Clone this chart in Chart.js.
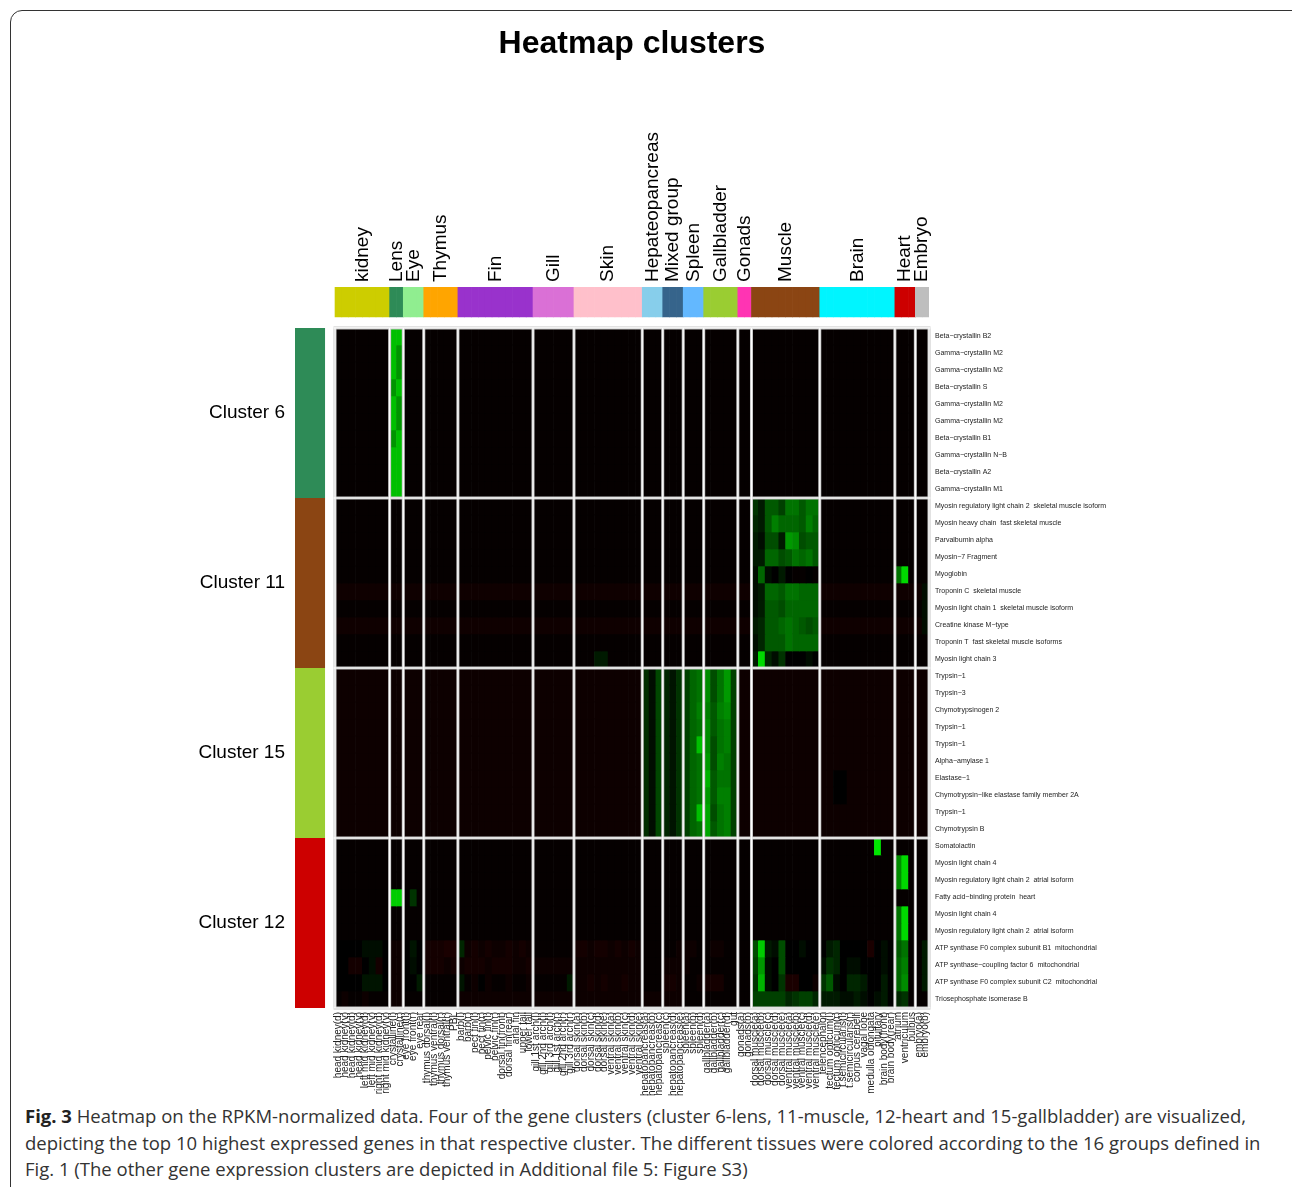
<!DOCTYPE html>
<html>
<head>
<meta charset="utf-8">
<title>Heatmap clusters</title>
<script src="https://cdn.jsdelivr.net/npm/chart.js@4.4.1/dist/chart.umd.min.js"></script>
<style>
  body { margin: 0; background: #fff; }
  #frame { position: absolute; left: 10px; top: 10px; width: 1300px; height: 1250px; border: 1px solid #333; border-radius: 12px; box-sizing: border-box; }
  #chart { position: absolute; left: 0; top: 0; }
  #caption { position: absolute; left: 25px; top: 1103px; font: 18.5px 'Open Sans', sans-serif; color: #333; line-height: 26.5px; white-space: nowrap; }
  #caption b { color: #222; }
</style>
</head>
<body>
<div id="frame"></div>
<canvas id="chart" width="1264" height="1100"></canvas>
<div id="caption"><b>Fig. 3</b> Heatmap on the RPKM-normalized data. Four of the gene clusters (cluster 6-lens, 11-muscle, 12-heart and 15-gallbladder) are visualized,<br>depicting the top 10 highest expressed genes in that respective cluster. The different tissues were colored according to the 16 groups defined in<br>Fig. 1 (The other gene expression clusters are depicted in Additional file 5: Figure S3)</div>
<script>
// tissue groups (column side colours)
const groups = ['kidney', 'Lens', 'Eye', 'Thymus', 'Fin', 'Gill', 'Skin', 'Hepateopancreas', 'Mixed group',
  'Spleen', 'Gallbladder', 'Gonads', 'Muscle', 'Brain', 'Heart', 'Embryo'];
const groupSizes = [8, 2, 3, 5, 11, 6, 10, 3, 3, 3, 5, 2, 10, 11, 3, 2];
const groupColors = ['#CDCD00', '#2E8B57', '#90EE90', '#FFA500', '#9932CC', '#DA70D6', '#FFC0CB', '#87CEEB', '#36648B',
  '#63B8FF', '#9ACD32', '#FF34B3', '#8B4513', '#00F5FF', '#CD0000', '#BEBEBE'];

// tissues (columns)
const tissues = [
  'head kidney(d)', 'head kidney(v)', 'head kidney(d)', 'head kidney(v)', 'left mid kidney(d)', 'left mid kidney(v)', 'right mid kidney(d)', 'right mid kidney(v)',
  'crystalline(l)', 'crystalline(r)',
  'eye front(l)', 'eye front(r)', 'eye rear',
  'thymus dorsal(l)', 'thymus ventral(l)', 'thymus dorsal(r)', 'thymus ventral(r)', 'PBL',
  'barb(l)', 'barb(r)', 'pect fin(l)', 'pect fin(r)', 'pelvic fin(l)', 'pelvic fin(r)', 'dorsal fin(front)', 'dorsal fin(rear)', 'anal fin', 'upper tail', 'lower tail',
  'gill 1st arch(l)', 'gill 2nd arch(l)', 'gill 3rd arch(l)', 'gill 1st arch(r)', 'gill 2nd arch(r)', 'gill 3rd arch(r)',
  'dorsal skin(a)', 'dorsal skin(b)', 'dorsal skin(c)', 'dorsal skin(d)', 'dorsal skin(e)', 'ventral skin(a)', 'ventral skin(b)', 'ventral skin(c)', 'ventral skin(d)', 'ventral skin(e)',
  'hepatopancreas(a)', 'hepatopancreas(b)', 'hepatopancreas(c)',
  'spleen(c)', 'hepatopancreas(d)', 'hepatopancreas(e)',
  'spleen(a)', 'spleen(b)', 'spleen(d)',
  'gallbladder(a)', 'gallbladder(b)', 'gallbladder(c)', 'gallbladder(d)', 'gut',
  'gonads(a)', 'gonads(b)',
  'dorsal muscle(a)', 'dorsal muscle(b)', 'dorsal muscle(c)', 'dorsal muscle(d)', 'dorsal muscle(e)', 'ventral muscle(a)', 'ventral muscle(b)', 'ventral muscle(c)', 'ventral muscle(d)', 'ventral muscle(e)',
  'telencephalon', 'tectum opticum(l)', 'tectum opticum(r)', 't.semicircularis(l)', 't.semicircularis(r)', 'corpus cerebelli', 'vagal lobe', 'medulla oblongata', 'pituitary', 'brain body(front)', 'brain body(rear)',
  'atrium', 'ventriculum', 'bulbus',
  'embryo(a)', 'embryo(b)'
];

// gene clusters (row side colours)
const clusters = ['Cluster 6', 'Cluster 11', 'Cluster 15', 'Cluster 12'];
const clusterColors = ['#2E8B57', '#8B4513', '#9ACD32', '#CD0000'];

const genes = [
  'Beta−crystallin B2', 'Gamma−crystallin M2', 'Gamma−crystallin M2', 'Beta−crystallin S', 'Gamma−crystallin M2',
  'Gamma−crystallin M2', 'Beta−crystallin B1', 'Gamma−crystallin N−B', 'Beta−crystallin A2', 'Gamma−crystallin M1',
  'Myosin regulatory light chain 2  skeletal muscle isoform', 'Myosin heavy chain  fast skeletal muscle', 'Parvalbumin alpha', 'Myosin−7 Fragment', 'Myoglobin',
  'Troponin C  skeletal muscle', 'Myosin light chain 1  skeletal muscle isoform', 'Creatine kinase M−type', 'Troponin T  fast skeletal muscle isoforms', 'Myosin light chain 3',
  'Trypsin−1', 'Trypsin−3', 'Chymotrypsinogen 2', 'Trypsin−1', 'Trypsin−1',
  'Alpha−amylase 1', 'Elastase−1', 'Chymotrypsin−like elastase family member 2A', 'Trypsin−1', 'Chymotrypsin B',
  'Somatolactin', 'Myosin light chain 4', 'Myosin regulatory light chain 2  atrial isoform', 'Fatty acid−binding protein  heart', 'Myosin light chain 4',
  'Myosin regulatory light chain 2  atrial isoform', 'ATP synthase F0 complex subunit B1  mitochondrial', 'ATP synthase−coupling factor 6  mitochondrial', 'ATP synthase F0 complex subunit C2  mitochondrial', 'Triosephosphate isomerase B'
];

// scaled expression, -100 (red) .. 0 (black) .. 100 (green); one row per gene, one value per tissue
const cluster6 = [
  [-2,-2,-2,-2,-2,-2,-2,-2, 75,75, -2,-2,-2, -2,-2,-2,-2,-2, -2,-2,-2,-2,-2,-2,-2,-2,-2,-2,-2, -2,-2,-2,-2,-2,-2, -2,-2,-2,-2,-2,-2,-2,-2,-2,-2, -2,-2,-2, -2,-2,-2, -2,-2,-2, -2,-2,-2,-2,-2, -2,-2, -2,-2,-2,-2,-2,-2,-2,-2,-2,-2, -2,-2,-2,-2,-2,-2,-2,-2,-2,-2,-2, -2,-2,-2, -2,-2],
  [-2,-2,-2,-2,-2,-2,-2,-2, 75,58, -2,-2,-2, -2,-2,-2,-2,-2, -2,-2,-2,-2,-2,-2,-2,-2,-2,-2,-2, -2,-2,-2,-2,-2,-2, -2,-2,-2,-2,-2,-2,-2,-2,-2,-2, -2,-2,-2, -2,-2,-2, -2,-2,-2, -2,-2,-2,-2,-2, -2,-2, -2,-2,-2,-2,-2,-2,-2,-2,-2,-2, -2,-2,-2,-2,-2,-2,-2,-2,-2,-2,-2, -2,-2,-2, -2,-2],
  [-2,-2,-2,-2,-2,-2,-2,-2, 75,58, -2,-2,-2, -2,-2,-2,-2,-2, -2,-2,-2,-2,-2,-2,-2,-2,-2,-2,-2, -2,-2,-2,-2,-2,-2, -2,-2,-2,-2,-2,-2,-2,-2,-2,-2, -2,-2,-2, -2,-2,-2, -2,-2,-2, -2,-2,-2,-2,-2, -2,-2, -2,-2,-2,-2,-2,-2,-2,-2,-2,-2, -2,-2,-2,-2,-2,-2,-2,-2,-2,-2,-2, -2,-2,-2, -2,-2],
  [-2,-2,-2,-2,-2,-2,-2,-2, 58,75, -2,-2,-2, -2,-2,-2,-2,-2, -2,-2,-2,-2,-2,-2,-2,-2,-2,-2,-2, -2,-2,-2,-2,-2,-2, -2,-2,-2,-2,-2,-2,-2,-2,-2,-2, -2,-2,-2, -2,-2,-2, -2,-2,-2, -2,-2,-2,-2,-2, -2,-2, -2,-2,-2,-2,-2,-2,-2,-2,-2,-2, -2,-2,-2,-2,-2,-2,-2,-2,-2,-2,-2, -2,-2,-2, -2,-2],
  [-2,-2,-2,-2,-2,-2,-2,-2, 75,58, -2,-2,-2, -2,-2,-2,-2,-2, -2,-2,-2,-2,-2,-2,-2,-2,-2,-2,-2, -2,-2,-2,-2,-2,-2, -2,-2,-2,-2,-2,-2,-2,-2,-2,-2, -2,-2,-2, -2,-2,-2, -2,-2,-2, -2,-2,-2,-2,-2, -2,-2, -2,-2,-2,-2,-2,-2,-2,-2,-2,-2, -2,-2,-2,-2,-2,-2,-2,-2,-2,-2,-2, -2,-2,-2, -2,-2],
  [-2,-2,-2,-2,-2,-2,-2,-2, 75,58, -2,-2,-2, -2,-2,-2,-2,-2, -2,-2,-2,-2,-2,-2,-2,-2,-2,-2,-2, -2,-2,-2,-2,-2,-2, -2,-2,-2,-2,-2,-2,-2,-2,-2,-2, -2,-2,-2, -2,-2,-2, -2,-2,-2, -2,-2,-2,-2,-2, -2,-2, -2,-2,-2,-2,-2,-2,-2,-2,-2,-2, -2,-2,-2,-2,-2,-2,-2,-2,-2,-2,-2, -2,-2,-2, -2,-2],
  [-2,-2,-2,-2,-2,-2,-2,-2, 58,75, -2,-2,-2, -2,-2,-2,-2,-2, -2,-2,-2,-2,-2,-2,-2,-2,-2,-2,-2, -2,-2,-2,-2,-2,-2, -2,-2,-2,-2,-2,-2,-2,-2,-2,-2, -2,-2,-2, -2,-2,-2, -2,-2,-2, -2,-2,-2,-2,-2, -2,-2, -2,-2,-2,-2,-2,-2,-2,-2,-2,-2, -2,-2,-2,-2,-2,-2,-2,-2,-2,-2,-2, -2,-2,-2, -2,-2],
  [-2,-2,-2,-2,-2,-2,-2,-2, 75,75, -2,-2,-2, -2,-2,-2,-2,-2, -2,-2,-2,-2,-2,-2,-2,-2,-2,-2,-2, -2,-2,-2,-2,-2,-2, -2,-2,-2,-2,-2,-2,-2,-2,-2,-2, -2,-2,-2, -2,-2,-2, -2,-2,-2, -2,-2,-2,-2,-2, -2,-2, -2,-2,-2,-2,-2,-2,-2,-2,-2,-2, -2,-2,-2,-2,-2,-2,-2,-2,-2,-2,-2, -2,-2,-2, -2,-2],
  [-2,-2,-2,-2,-2,-2,-2,-2, 75,75, -2,-2,-2, -2,-2,-2,-2,-2, -2,-2,-2,-2,-2,-2,-2,-2,-2,-2,-2, -2,-2,-2,-2,-2,-2, -2,-2,-2,-2,-2,-2,-2,-2,-2,-2, -2,-2,-2, -2,-2,-2, -2,-2,-2, -2,-2,-2,-2,-2, -2,-2, -2,-2,-2,-2,-2,-2,-2,-2,-2,-2, -2,-2,-2,-2,-2,-2,-2,-2,-2,-2,-2, -2,-2,-2, -2,-2],
  [-2,-2,-2,-2,-2,-2,-2,-2, 75,75, -2,-2,-2, -2,-2,-2,-2,-2, -2,-2,-2,-2,-2,-2,-2,-2,-2,-2,-2, -2,-2,-2,-2,-2,-2, -2,-2,-2,-2,-2,-2,-2,-2,-2,-2, -2,-2,-2, -2,-2,-2, -2,-2,-2, -2,-2,-2,-2,-2, -2,-2, -2,-2,-2,-2,-2,-2,-2,-2,-2,-2, -2,-2,-2,-2,-2,-2,-2,-2,-2,-2,-2, -2,-2,-2, -2,-2]
];

const cluster11 = [
  [-2,-2,-2,-2,-2,-2,-2,-2, -2,-2, -2,-2,-2, -2,-2,-2,-2,-2, -2,-2,-2,-2,-2,-2,-2,-2,-2,-2,-2, -2,-2,-2,-2,-2,-2, -2,-2,-2,-2,-2,-2,-2,-2,-2,-2, -2,-2,-2, -2,-2,-2, -2,-2,-2, -2,-2,-2,-2,-2, -2,-2, 20,10,35,35,25,45,45,35,45,45, -2,-2,-2,-2,-2,-2,-2,-2,-2,-2,-2, -2,-2,-2, -2,-2],
  [-2,-2,-2,-2,-2,-2,-2,-2, -2,-2, -2,-2,-2, -2,-2,-2,-2,-2, -2,-2,-2,-2,-2,-2,-2,-2,-2,-2,-2, -2,-2,-2,-2,-2,-2, -2,-2,-2,-2,-2,-2,-2,-2,-2,-2, -2,-2,-2, -2,-2,-2, -2,-2,-2, -2,-2,-2,-2,-2, -2,-2, 15,10,35,50,40,40,40,35,50,40, -2,-2,-2,-2,-2,-2,-2,-2,-2,-2,-2, -2,-2,-2, -2,-2],
  [-2,-2,-2,-2,-2,-2,-2,-2, -2,-2, -2,-2,-2, -2,-2,-2,-2,-2, -2,-2,-2,-2,-2,-2,-2,-2,-2,-2,-2, -2,-2,-2,-2,-2,-2, -2,-2,-2,-2,-2,-2,-2,-2,-2,-2, -2,-2,-2, -2,-2,-2, -2,-2,-2, -2,-2,-2,-2,-2, -2,-2, 10,5,30,30,10,60,55,30,35,35, -2,-2,-2,-2,-2,-2,-2,-2,-2,-2,-2, -2,-2,-2, -2,-2],
  [-2,-2,-2,-2,-2,-2,-2,-2, -2,-2, -2,-2,-2, -2,-2,-2,-2,-2, -2,-2,-2,-2,-2,-2,-2,-2,-2,-2,-2, -2,-2,-2,-2,-2,-2, -2,-2,-2,-2,-2,-2,-2,-2,-2,-2, -2,-2,-2, -2,-2,-2, -2,-2,-2, -2,-2,-2,-2,-2, -2,-2, 10,10,40,40,30,35,45,40,45,35, -2,-2,-2,-2,-2,-2,-2,-2,-2,-2,-2, -2,-2,-2, -2,-2],
  [-2,-2,-2,-2,-2,-2,-2,-2, -2,-2, -2,-2,-2, -2,-2,-2,-2,-2, -2,-2,-2,-2,-2,-2,-2,-2,-2,-2,-2, -2,-2,-2,-2,-2,-2, -2,-2,-2,-2,-2,-2,-2,-2,-2,-2, -2,-2,-2, -2,-2,-2, -2,-2,-2, -2,-2,-2,-2,-2, -2,-2, 5,40,5,0,10,0,-2,-2,0,-2, -2,-2,-2,-2,-2,-2,-2,-2,-2,-2,-2, 45,85,-2, -2,-2],
  [-6,-6,-6,-6,-6,-6,-6,-6, -6,-6, -6,-6,-6, -6,-6,-6,-6,-6, -6,-6,-6,-6,-6,-6,-6,-6,-6,-6,-6, -6,-6,-6,-6,-6,-6, -6,-6,-6,-6,-6,-6,-6,-6,-6,-6, -6,-6,-6, -6,-6,-6, -6,-6,-6, -6,-6,-6,-6,-6, -6,-6, 5,10,40,40,35,45,45,40,40,40, -6,-6,-6,-6,-6,-6,-6,-6,-6,-6,-6, -6,-6,-6, -6,5],
  [-2,-2,-2,-2,-2,-2,-2,-2, -2,-2, -2,-2,-2, -2,-2,-2,-2,-2, -2,-2,-2,-2,-2,-2,-2,-2,-2,-2,-2, -2,-2,-2,-2,-2,-2, -2,-2,-2,-2,-2,-2,-2,-2,-2,-2, -2,-2,-2, -2,-2,-2, -2,-2,-2, -2,-2,-2,-2,-2, -2,-2, 5,10,35,35,30,40,40,40,40,40, -2,-2,-2,-2,-2,-2,-2,-2,-2,-2,-2, -2,-2,-2, -2,5],
  [-6,-6,-6,-6,-6,-6,-6,-6, -6,-6, -6,-6,-6, -6,-6,-6,-6,-6, -6,-6,-6,-6,-6,-6,-6,-6,-6,-6,-6, -6,-6,-6,-6,-6,-6, -6,-6,-6,-6,-6,-6,-6,-6,-6,-6, -6,-6,-6, -6,-6,-6, -6,-6,-6, -6,-6,-6,-6,-6, -6,-6, 10,15,35,35,40,45,40,35,30,35, -6,-6,-6,-6,-6,-6,-6,-6,-6,-6,-6, -6,-6,-6, -6,5],
  [-2,-2,-2,-2,-2,-2,-2,-2, -2,-2, -2,-2,-2, -2,-2,-2,-2,-2, -2,-2,-2,-2,-2,-2,-2,-2,-2,-2,-2, -2,-2,-2,-2,-2,-2, -2,-2,-2,-2,-2,-2,-2,-2,-2,-2, -2,-2,-2, -2,-2,-2, -2,-2,-2, -2,-2,-2,-2,-2, -2,-2, 5,15,35,35,35,45,40,40,40,40, -2,-2,-2,-2,-2,-2,-2,-2,-2,-2,-2, -2,-2,-2, -2,-2],
  [-2,-2,-2,-2,-2,-2,-2,-2, -2,-2, -2,-2,-2, -2,-2,-2,-2,-2, -2,-2,-2,-2,-2,-2,-2,-2,-2,-2,-2, -2,-2,-2,-2,-2,-2, -2,-2,-2,10,10,-2,-2,-2,-2,-2, -2,-2,-2, -2,-2,-2, -2,-2,-2, -2,-2,-2,-2,-2, -2,-2, 10,85,15,5,20,0,0,0,5,0, -2,-2,-2,-2,-2,-2,-2,-2,-2,-2,-2, -2,-2,-2, -2,-2]
];

const cluster15 = [
  [-5,-5,-5,-5,-5,-5,-5,-5, -5,-5, -5,-5,-5, -5,-5,-5,-5,-5, -5,-5,-5,-5,-5,-5,-5,-5,-5,-5,-5, -5,-5,-5,-5,-5,-5, -5,-5,-5,-5,-5,-5,-5,-5,-5,-5, 18,5,28, 15,8,20, 25,40,45, 55,30,45,60,25, -5,-5, -5,-5,-5,-5,-5,-5,-5,-5,-5,-5, -5,-5,-5,-5,-5,-5,-5,-5,-5,-5,-5, -5,-5,-5, -5,-5],
  [-5,-5,-5,-5,-5,-5,-5,-5, -5,-5, -5,-5,-5, -5,-5,-5,-5,-5, -5,-5,-5,-5,-5,-5,-5,-5,-5,-5,-5, -5,-5,-5,-5,-5,-5, -5,-5,-5,-5,-5,-5,-5,-5,-5,-5, 18,5,28, 15,8,20, 25,40,45, 55,30,45,60,25, -5,-5, -5,-5,-5,-5,-5,-5,-5,-5,-5,-5, -5,-5,-5,-5,-5,-5,-5,-5,-5,-5,-5, -5,-5,-5, -5,-5],
  [-5,-5,-5,-5,-5,-5,-5,-5, -5,-5, -5,-5,-5, -5,-5,-5,-5,-5, -5,-5,-5,-5,-5,-5,-5,-5,-5,-5,-5, -5,-5,-5,-5,-5,-5, -5,-5,-5,-5,-5,-5,-5,-5,-5,-5, 18,5,28, 15,8,20, 25,40,50, 50,35,50,55,25, -5,-5, -5,-5,-5,-5,-5,-5,-5,-5,-5,-5, -5,-5,-5,-5,-5,-5,-5,-5,-5,-5,-5, -5,-5,-5, -5,-5],
  [-5,-5,-5,-5,-5,-5,-5,-5, -5,-5, -5,-5,-5, -5,-5,-5,-5,-5, -5,-5,-5,-5,-5,-5,-5,-5,-5,-5,-5, -5,-5,-5,-5,-5,-5, -5,-5,-5,-5,-5,-5,-5,-5,-5,-5, 18,5,28, 15,8,20, 25,40,45, 55,35,45,50,25, -5,-5, -5,-5,-5,-5,-5,-5,-5,-5,-5,-5, -5,-5,-5,-5,-5,-5,-5,-5,-5,-5,-5, -5,-5,-5, -5,-5],
  [-5,-5,-5,-5,-5,-5,-5,-5, -5,-5, -5,-5,-5, -5,-5,-5,-5,-5, -5,-5,-5,-5,-5,-5,-5,-5,-5,-5,-5, -5,-5,-5,-5,-5,-5, -5,-5,-5,-5,-5,-5,-5,-5,-5,-5, 18,5,28, 15,8,20, 25,40,75, 55,30,45,50,25, -5,-5, -5,-5,-5,-5,-5,-5,-5,-5,-5,-5, -5,-5,-5,-5,-5,-5,-5,-5,-5,-5,-5, -5,-5,-5, -5,-5],
  [-5,-5,-5,-5,-5,-5,-5,-5, -5,-5, -5,-5,-5, -5,-5,-5,-5,-5, -5,-5,-5,-5,-5,-5,-5,-5,-5,-5,-5, -5,-5,-5,-5,-5,-5, -5,-5,-5,-5,-5,-5,-5,-5,-5,-5, 18,5,28, 15,8,20, 25,40,45, 60,30,50,45,25, -5,-5, -5,-5,-5,-5,-5,-5,-5,-5,-5,-5, -5,-5,-5,-5,-5,-5,-5,-5,-5,-5,-5, -5,-5,-5, -5,-5],
  [-5,-5,-5,-5,-5,-5,-5,-5, -5,-5, -5,-5,-5, -5,-5,-5,-5,-5, -5,-5,-5,-5,-5,-5,-5,-5,-5,-5,-5, -5,-5,-5,-5,-5,-5, -5,-5,-5,-5,-5,-5,-5,-5,-5,-5, 18,5,28, 15,8,20, 25,40,45, 70,35,45,45,25, -5,-5, -5,-5,-5,-5,-5,-5,-5,-5,-5,-5, -5,-5,0,0,-5,-5,-5,-5,-5,-5,-5, -5,-5,-5, -5,-5],
  [-5,-5,-5,-5,-5,-5,-5,-5, -5,-5, -5,-5,-5, -5,-5,-5,-5,-5, -5,-5,-5,-5,-5,-5,-5,-5,-5,-5,-5, -5,-5,-5,-5,-5,-5, -5,-5,-5,-5,-5,-5,-5,-5,-5,-5, 18,5,28, 15,8,20, 25,40,45, 60,35,50,50,25, -5,-5, -5,-5,-5,-5,-5,-5,-5,-5,-5,-5, -5,-5,0,0,-5,-5,-5,-5,-5,-5,-5, -5,-5,-5, -5,-5],
  [-5,-5,-5,-5,-5,-5,-5,-5, -5,-5, -5,-5,-5, -5,-5,-5,-5,-5, -5,-5,-5,-5,-5,-5,-5,-5,-5,-5,-5, -5,-5,-5,-5,-5,-5, -5,-5,-5,-5,-5,-5,-5,-5,-5,-5, 18,5,28, 15,8,20, 25,40,75, 65,30,45,50,25, -5,-5, -5,-5,-5,-5,-5,-5,-5,-5,-5,-5, -5,-5,-5,-5,-5,-5,-5,-5,-5,-5,-5, -5,-5,-5, -5,-5],
  [-5,-5,-5,-5,-5,-5,-5,-5, -5,-5, -5,-5,-5, -5,-5,-5,-5,-5, -5,-5,-5,-5,-5,-5,-5,-5,-5,-5,-5, -5,-5,-5,-5,-5,-5, -5,-5,-5,-5,-5,-5,-5,-5,-5,-5, 18,5,28, 15,8,20, 25,40,45, 65,35,45,50,25, -5,-5, -5,-5,-5,-5,-5,-5,-5,-5,-5,-5, -5,-5,-5,-5,-5,-5,-5,-5,-5,-5,-5, -5,-5,-5, -5,-5]
];

const cluster12 = [
  [-2,-2,-2,-2,-2,-2,-2,-2, -2,-2, -2,-2,-2, -2,-2,-2,-2,-2, -2,-2,-2,-2,-2,-2,-2,-2,-2,-2,-2, -2,-2,-2,-2,-2,-2, -2,-2,-2,-2,-2,-2,-2,-2,-2,-2, -2,-2,-2, -2,-2,-2, -2,-2,-2, -2,-2,-2,-2,-2, -2,-2, -2,-2,-2,-2,-2,-2,-2,-2,-2,-2, -2,-2,-2,-2,-2,-2,-2,-2,90,-2,-2, -2,-2,-2, -2,-2],
  [-2,-2,-2,-2,-2,-2,-2,-2, -2,-2, -2,-2,-2, -2,-2,-2,-2,-2, -2,-2,-2,-2,-2,-2,-2,-2,-2,-2,-2, -2,-2,-2,-2,-2,-2, -2,-2,-2,-2,-2,-2,-2,-2,-2,-2, -2,-2,-2, -2,-2,-2, -2,-2,-2, -2,-2,-2,-2,-2, -2,-2, -2,-2,-2,-2,-2,-2,-2,-2,-2,-2, -2,-2,-2,-2,-2,-2,-2,-2,-2,-2,-2, 55,85,-2, -2,-2],
  [-2,-2,-2,-2,-2,-2,-2,-2, -2,-2, -2,-2,-2, -2,-2,-2,-2,-2, -2,-2,-2,-2,-2,-2,-2,-2,-2,-2,-2, -2,-2,-2,-2,-2,-2, -2,-2,-2,-2,-2,-2,-2,-2,-2,-2, -2,-2,-2, -2,-2,-2, -2,-2,-2, -2,-2,-2,-2,-2, -2,-2, -2,-2,-2,-2,-2,-2,-2,-2,-2,-2, -2,-2,-2,-2,-2,-2,-2,-2,-2,-2,-2, 55,85,-2, -2,-2],
  [-2,-2,-2,-2,-2,-2,-2,-2, 80,80, -2,20,-2, -2,-2,-2,-2,-2, -2,-2,-2,-2,-2,-2,-2,-2,-2,-2,-2, -2,-2,-2,-2,-2,-2, -2,-2,-2,-2,-2,-2,-2,-2,-2,-2, -2,-2,-2, -2,-2,-2, -2,-2,-2, -2,-2,-2,-2,-2, -2,-2, -2,-2,-2,-2,-2,-2,-2,-2,-2,-2, -2,-2,-2,-2,-2,-2,-2,-2,-2,-2,-2, -2,-2,-2, -2,-2],
  [-2,-2,-2,-2,-2,-2,-2,-2, -2,-2, -2,-2,-2, -2,-2,-2,-2,-2, -2,-2,-2,-2,-2,-2,-2,-2,-2,-2,-2, -2,-2,-2,-2,-2,-2, -2,-2,-2,-2,-2,-2,-2,-2,-2,-2, -2,-2,-2, -2,-2,-2, -2,-2,-2, -2,-2,-2,-2,-2, -2,-2, -2,-2,-2,-2,-2,-2,-2,-2,-2,-2, -2,-2,-2,-2,-2,-2,-2,-2,-2,-2,-2, 45,85,-2, -2,-2],
  [-2,-2,-2,-2,-2,-2,-2,-2, -2,-2, -2,-2,-2, -2,-2,-2,-2,-2, -2,-2,-2,-2,-2,-2,-2,-2,-2,-2,-2, -2,-2,-2,-2,-2,-2, -2,-2,-2,-2,-2,-2,-2,-2,-2,-2, -2,-2,-2, -2,-2,-2, -2,-2,-2, -2,-2,-2,-2,-2, -2,-2, -2,-2,-2,-2,-2,-2,-2,-2,-2,-2, -2,-2,-2,-2,-2,-2,-2,-2,-2,-2,-2, 45,85,-2, -2,-2],
  [0,0,0,0,5,5,5,0, -5,-5, 0,8,0, -8,-8,-8,-10,-10, 15,-5,-8,-5,-8,-5,-5,-8,-5,-8,-5, -2,-2,-2,-2,-2,-2, -8,-8,-5,-8,-8,-5,-8,-5,-8,-5, -2,-2,-2, -2,-2,-5, -5,-5,-2, -2,-5,-5,-2,-2, -2,-2, 30,80,10,5,30,0,0,5,0,0, 0,10,15,0,0,0,0,-10,0,5,0, 35,45,-2, -2,10],
  [0,0,-8,-8,0,5,-8,0, -5,-5, 0,5,0, -8,-8,-8,-5,-8, -5,-8,-8,-8,-5,-8,-8,-8,-5,-5,-8, -5,-5,-5,-5,-5,-5, -5,-5,-5,-5,-5,-5,-5,-5,-5,-5, -2,-2,-2, -5,-5,-5, -5,-2,-2, -2,-2,-2,-2,-2, -2,-2, 25,60,5,0,30,0,0,0,0,0, 5,20,15,0,5,5,0,0,0,5,0, 40,50,-2, -2,10],
  [0,0,0,0,8,8,8,0, -5,-5, 0,0,10, -2,-2,-2,-2,-2, 8,-2,-5,0,-5,-2,-2,-5,-2,-2,-5, -2,-2,-2,-2,-2,10, -5,-5,-8,-5,-8,-5,-5,-8,-5,-5, -2,-2,-2, -8,-8,-5, -2,-2,-5, -8,-8,-8,-2,-2, -2,-2, 20,70,5,0,20,-10,-10,0,0,-5, 20,35,5,0,15,15,10,0,0,10,0, 40,55,-2, -2,10],
  [-2,-5,-2,-2,-5,-2,-2,-2, -5,-5, -2,-2,-2, -2,-2,-2,-2,-2, -5,-5,-5,-5,-5,-5,-5,-5,-5,-5,-5, -5,-5,-5,-5,-5,-5, -5,-5,-5,-5,-5,-5,-5,-5,-5,-5, -5,-5,-5, -5,-5,-5, -2,-2,-2, -2,-2,-2,-2,-2, -2,-2, 25,25,25,25,25,15,20,25,25,15, 10,10,10,5,5,10,5,0,5,10,0, 15,20,-2, -2,-2]
];

const FONT = "'Liberation Sans', Arial, sans-serif";
// layout in axis units: the side colour bars sit outside the 0..N range of the heatmap
const X_MIN = -5.86, SIDE_W = 4.4;
const Y_MIN = -2.41, COLBAR_END = -0.65;

const matrix = [...cluster6, ...cluster11, ...cluster15, ...cluster12];
const rowsPerCluster = cluster6.length;

function cellColor(v) {
  const a = Math.round(Math.min(Math.abs(v), 100) * 2.55);
  return v >= 0 ? `rgb(0,${a},0)` : `rgb(${a},0,0)`;
}

const tissueColors = [];
groupSizes.forEach((n, g) => { for (let i = 0; i < n; i++) tissueColors.push(groupColors[g]); });
const groupBounds = [0];
groupSizes.forEach(n => groupBounds.push(groupBounds[groupBounds.length - 1] + n));
const groupCenters = groupSizes.map((n, g) => groupBounds[g] + n / 2);

const datasets = matrix.map((row, r) => ({
  data: row.map((v, c) => ({ x: c + 0.5, y: [r, r + 1] })),
  backgroundColor: row.map(cellColor)
}));
datasets.push({
  data: tissues.map((t, c) => ({ x: c + 0.5, y: [Y_MIN, COLBAR_END] })),
  backgroundColor: tissueColors
});
datasets.push({
  data: clusters.map((n, k) => ({ x: X_MIN + SIDE_W / 2, y: [k * rowsPerCluster, (k + 1) * rowsPerCluster] })),
  backgroundColor: clusterColors,
  barPercentage: SIDE_W
});

const separators = {
  id: 'separators',
  afterDatasetsDraw(chart) {
    const { ctx, scales: { x, y } } = chart;
    const x0 = x.getPixelForValue(0), x1 = x.getPixelForValue(tissues.length);
    const y0 = y.getPixelForValue(0), y1 = y.getPixelForValue(genes.length);
    ctx.save();
    [[3, '#c6c6c6'], [1.2, '#ffffff']].forEach(([w, c]) => {
      ctx.lineWidth = w;
      ctx.strokeStyle = c;
      ctx.beginPath();
      for (let k = 0; k <= clusters.length; k++) {
        const yy = y.getPixelForValue(k * rowsPerCluster);
        ctx.moveTo(x0 - 1.5, yy); ctx.lineTo(x1 + 1.5, yy);
      }
      groupBounds.forEach(b => {
        const xx = x.getPixelForValue(b);
        ctx.moveTo(xx, y0); ctx.lineTo(xx, y1);
      });
      ctx.stroke();
    });
    ctx.restore();
  }
};

const hidden = { grid: { display: false, drawTicks: false }, border: { display: false } };
const W = 1264, H = 1100, PLOT_TOP = 287, PLOT_BOTTOM = 1008, PLOT_LEFT = 295, PLOT_RIGHT = 929;
const TITLE_SIZE = 32, TITLE_PAD = 25, GROUP_FONT = 19;

new Chart(document.getElementById('chart'), {
  type: 'bar',
  data: { datasets },
  options: {
    responsive: false,
    animation: false,
    events: [],
    layout: { padding: 0 },
    datasets: { bar: { grouped: false, barPercentage: 1, categoryPercentage: 1, borderWidth: 0 } },
    plugins: {
      legend: { display: false },
      tooltip: { enabled: false },
      title: {
        display: true, text: 'Heatmap clusters', color: '#000',
        font: { family: FONT, size: TITLE_SIZE, weight: 'bold', lineHeight: 1.2 },
        padding: { top: TITLE_PAD, bottom: 0 }
      }
    },
    scales: {
      x: {
        type: 'linear', position: 'bottom', min: X_MIN, max: tissues.length, offset: false, bounds: 'data', ...hidden,
        afterBuildTicks: ax => { ax.ticks = tissues.map((t, i) => ({ value: i + 0.5 })); },
        afterFit: ax => { ax.height = H - PLOT_BOTTOM; },
        ticks: { autoSkip: false, minRotation: 90, maxRotation: 90, padding: 4, color: '#222',
          font: { family: FONT, size: 10 }, callback: (v, i) => tissues[i] }
      },
      xt: {
        type: 'linear', position: 'top', min: X_MIN, max: tissues.length, offset: false, bounds: 'data', ...hidden,
        afterBuildTicks: ax => { ax.ticks = groupCenters.map(v => ({ value: v })); },
        afterFit: ax => { ax.height = PLOT_TOP - (TITLE_SIZE * 1.2 + TITLE_PAD); },
        // rotated top labels are drawn one line-height to the left of their tick; shift them back
        ticks: { autoSkip: false, minRotation: 90, maxRotation: 90, padding: 5, color: '#000', labelOffset: GROUP_FONT * 1.2,
          font: { family: FONT, size: GROUP_FONT }, callback: (v, i) => groups[i] }
      },
      y: {
        type: 'linear', position: 'right', reverse: true, min: Y_MIN, max: genes.length, bounds: 'data', ...hidden,
        afterBuildTicks: ax => { ax.ticks = genes.map((g, i) => ({ value: i + 0.5 })); },
        afterFit: ax => { ax.width = W - PLOT_RIGHT; },
        ticks: { autoSkip: false, padding: 6, color: '#222', font: { family: FONT, size: 7 }, callback: (v, i) => genes[i] }
      },
      yl: {
        type: 'linear', position: 'left', reverse: true, min: Y_MIN, max: genes.length, bounds: 'data', ...hidden,
        afterBuildTicks: ax => { ax.ticks = clusters.map((c, k) => ({ value: (k + 0.5) * rowsPerCluster })); },
        afterFit: ax => { ax.width = PLOT_LEFT; },
        ticks: { autoSkip: false, padding: 10, color: '#000', font: { family: FONT, size: 19 }, callback: (v, i) => clusters[i] }
      }
    }
  },
  plugins: [separators]
});
</script>
</body>
</html>
